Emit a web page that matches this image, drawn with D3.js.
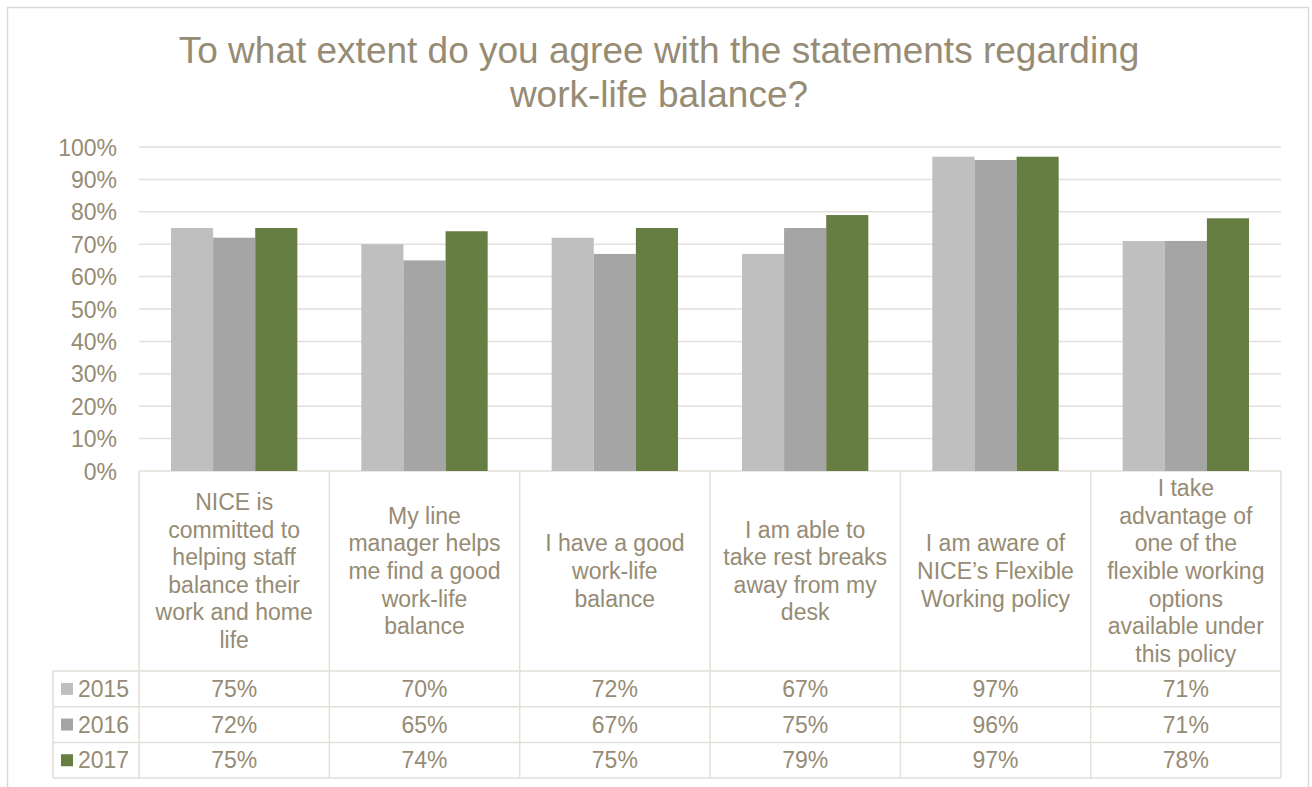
<!DOCTYPE html>
<html>
<head>
<meta charset="utf-8">
<script src="https://cdn.jsdelivr.net/npm/d3@7"></script>
<style>
  html, body { margin: 0; padding: 0; background: #fff; }
  svg { display: block; font-family: "Liberation Sans", Arial, sans-serif; }
</style>
</head>
<body>
<svg id="chart" width="1312" height="787"></svg>
<script>
// Survey statements (wrapped as they appear in the data table header)
const categories = [
  ["NICE is", "committed to", "helping staff", "balance their", "work and home", "life"],
  ["My line", "manager helps", "me find a good", "work-life", "balance"],
  ["I have a good", "work-life", "balance"],
  ["I am able to", "take rest breaks", "away from my", "desk"],
  ["I am aware of", "NICE\u2019s Flexible", "Working policy"],
  ["I take", "advantage of", "one of the", "flexible working", "options", "available under", "this policy"]
];
const years = ["2015", "2016", "2017"];
const values2015 = [75, 70, 72, 67, 97, 71];
const values2016 = [72, 65, 67, 75, 96, 71];
const values2017 = [75, 74, 75, 79, 97, 78];
const yTicks = [0, 10, 20, 30, 40, 50, 60, 70, 80, 90, 100];
const titleLines = ["To what extent do you agree with the statements regarding", "work-life balance?"];

const seriesValues = [values2015, values2016, values2017];
const colors = ["#bfbfbf", "#a5a5a5", "#677e42"];
const textColor = "#968b74";
const lineColor = "#e3dfd9";
const fontSize = 23;

const svg = d3.select("#chart");

// outer chart frame
svg.append("rect")
  .attr("x", 7.5).attr("y", 7.5).attr("width", 1301).attr("height", 790)
  .attr("fill", "none").attr("stroke", "#dcd9d3").attr("stroke-width", 1.5);

// title
svg.append("g").selectAll("text").data(titleLines).join("text")
  .attr("x", 659).attr("y", (d, i) => 63 + i * 44)
  .attr("text-anchor", "middle")
  .attr("fill", textColor)
  .attr("font-size", 37)
  .text(d => d);

const plotLeft = 139, plotRight = 1281, plotTop = 147, plotBottom = 471;

const x = d3.scaleBand().domain(d3.range(categories.length)).range([plotLeft, plotRight]);
const xInner = d3.scaleBand().domain(years).range([32, x.bandwidth() - 32]);
const y = d3.scaleLinear().domain([0, 100]).range([plotBottom, plotTop]);

// gridlines
svg.append("g").selectAll("line").data(yTicks).join("line")
  .attr("x1", plotLeft).attr("x2", plotRight)
  .attr("y1", d => y(d)).attr("y2", d => y(d))
  .attr("stroke", lineColor).attr("stroke-width", 1.5);

// y axis labels
const yAxis = d3.axisLeft(y).tickValues(yTicks).tickFormat(d => d + "%").tickSize(0).tickPadding(0);
const yg = svg.append("g").attr("transform", `translate(${117},0)`).call(yAxis);
yg.select(".domain").remove();
yg.selectAll("text")
  .attr("fill", textColor)
  .attr("font-size", fontSize)
  .attr("font-family", "Liberation Sans, Arial, sans-serif")
  .attr("dy", "0.35em");

// bars
const groups = svg.append("g").selectAll("g").data(categories.map((c, i) => i)).join("g")
  .attr("transform", i => `translate(${x(i)},0)`);
groups.selectAll("rect")
  .data(i => years.map((yr, s) => ({ yr, s, v: seriesValues[s][i] })))
  .join("rect")
  .attr("x", d => xInner(d.yr))
  .attr("width", xInner.bandwidth())
  .attr("y", d => y(d.v))
  .attr("height", d => y(0) - y(d.v))
  .attr("fill", d => colors[d.s]);

// data table
const headerBottom = 671;
const rowH = 35.7;
const tableLeft = 53;
const table = svg.append("g");

// vertical lines for category columns
const colEdges = d3.range(categories.length + 1).map(i => i < categories.length ? x(i) : plotRight);
table.selectAll("line.v").data(colEdges).join("line")
  .attr("class", "v")
  .attr("x1", d => d).attr("x2", d => d)
  .attr("y1", plotBottom).attr("y2", headerBottom + rowH * 3)
  .attr("stroke", lineColor).attr("stroke-width", 1.5);
// legend column left edge
table.append("line")
  .attr("x1", tableLeft).attr("x2", tableLeft)
  .attr("y1", headerBottom).attr("y2", headerBottom + rowH * 3)
  .attr("stroke", lineColor).attr("stroke-width", 1.5);
// horizontal row lines
table.selectAll("line.h").data(d3.range(4)).join("line")
  .attr("class", "h")
  .attr("x1", tableLeft).attr("x2", plotRight)
  .attr("y1", r => headerBottom + r * rowH).attr("y2", r => headerBottom + r * rowH)
  .attr("stroke", lineColor).attr("stroke-width", 1.5);

// header cell labels
const lineH = 27.6;
const headCenter = (plotBottom + headerBottom) / 2;
table.selectAll("g.head").data(categories).join("g")
  .attr("class", "head")
  .each(function (lines, i) {
    const cx = x(i) + x.bandwidth() / 2;
    const top = headCenter - (lines.length * lineH) / 2;
    d3.select(this).selectAll("text").data(lines).join("text")
      .attr("x", cx)
      .attr("y", (d, k) => top + (k + 0.5) * lineH)
      .attr("dy", "0.35em")
      .attr("text-anchor", "middle")
      .attr("fill", textColor)
      .attr("font-size", fontSize)
      .text(d => d);
  });

// legend keys and values per row
years.forEach((yr, s) => {
  const cy = headerBottom + (s + 0.5) * rowH;
  table.append("rect")
    .attr("x", 61).attr("y", cy - 6).attr("width", 12).attr("height", 12)
    .attr("fill", colors[s]);
  table.append("text")
    .attr("x", 78).attr("y", cy).attr("dy", "0.35em")
    .attr("fill", textColor).attr("font-size", fontSize)
    .text(yr);
  table.selectAll(null).data(seriesValues[s]).join("text")
    .attr("x", (d, i) => x(i) + x.bandwidth() / 2)
    .attr("y", cy).attr("dy", "0.35em")
    .attr("text-anchor", "middle")
    .attr("fill", textColor).attr("font-size", fontSize)
    .text(d => d + "%");
});
</script>
</body>
</html>
